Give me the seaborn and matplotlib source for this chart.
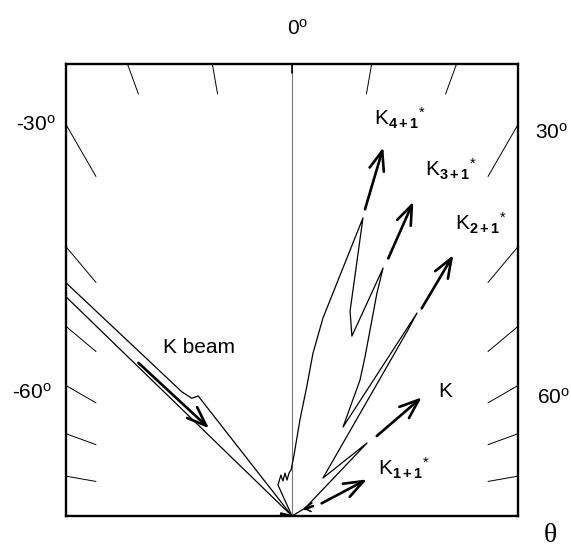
import numpy as np
import matplotlib
matplotlib.use("Agg")
import matplotlib.pyplot as plt
import seaborn as sns

# ---------------- data (data units: origin at bottom centre, half-width = 1) -------------
# K beam lobe outline
beam_upper_x = [-1.0, -0.488, -0.444, -0.415, 0.0]
beam_upper_y = [1.032, 0.550, 0.521, 0.531, 0.0]
beam_lower_x = [-1.0, 0.0]
beam_lower_y = [0.970, 0.0]

# outline of the forward lobes (K4+1, K3+1, K2+1, K)
lobe_x = [0.0, -0.062, -0.053, -0.049, -0.040, -0.031, -0.022, -0.013, -0.004, 0.009,
          0.035, 0.065, 0.093, 0.137, 0.314, 0.257, 0.265, 0.403, 0.376, 0.323, 0.301,
          0.226, 0.553, 0.513, 0.137, 0.332, 0.058, 0.0]
lobe_y = [0.0, 0.137, 0.168, 0.181, 0.155, 0.190, 0.159, 0.190, 0.204, 0.270,
          0.425, 0.571, 0.721, 0.876, 1.319, 0.907, 0.796, 1.097, 0.987, 0.704, 0.602,
          0.394, 0.898, 0.823, 0.168, 0.323, 0.035, 0.0]

# arrows (start -> tip)
arrow_names = ["K4+1", "K3+1", "K2+1", "K", "K1+1", "beam"]
arrow_x0 = [0.323, 0.426, 0.574, 0.375, 0.131, -0.680]
arrow_y0 = [1.357, 1.140, 0.919, 0.354, 0.056, 0.678]
arrow_x1 = [0.404, 0.537, 0.714, 0.574, 0.331, -0.367]
arrow_y1 = [1.631, 1.391, 1.155, 0.525, 0.162, 0.388]

# short dash / hook near origin of K1+1
k11_dash_x = [0.058, 0.093]
k11_dash_y = [0.031, 0.044]
k11_hook_x = [0.088, 0.056, 0.084]
k11_hook_y = [0.058, 0.034, 0.020]

# angular tick marks (degrees)
tick_angles = [-80, -70, -60, -50, -40, -30, -20, -10, 10, 20, 30, 40, 50, 60, 70, 80]

# labels
angle_labels = ["0$^{\\mathrm{o}}$", "-30$^{\\mathrm{o}}$", "30$^{\\mathrm{o}}$",
                "-60$^{\\mathrm{o}}$", "60$^{\\mathrm{o}}$"]
angle_label_x = [0.027, -1.131, 1.150, -1.150, 1.159]
angle_label_y = [2.155, 1.730, 1.695, 0.545, 0.522]

k_labels = [r"$\mathrm{K}_{\mathbf{4+1}}{}^{*}$", r"$\mathrm{K}_{\mathbf{3+1}}{}^{*}$",
            r"$\mathrm{K}_{\mathbf{2+1}}{}^{*}$", "K", r"$\mathrm{K}_{\mathbf{1+1}}{}^{*}$", "K beam"]
k_label_x = [0.363, 0.588, 0.721, 0.647, 0.382, -0.569]
k_label_y = [1.730, 1.502, 1.262, 0.528, 0.181, 0.723]

# ---------------- style ----------------
sns.set_theme(style="white")
plt.rcParams["font.family"] = ["Liberation Sans", "DejaVu Sans"]
plt.rcParams["text.color"] = "black"
plt.rcParams["mathtext.fontset"] = "custom"
plt.rcParams["mathtext.rm"] = "Liberation Sans"
plt.rcParams["mathtext.it"] = "Liberation Sans:italic"
plt.rcParams["mathtext.bf"] = "Liberation Sans:bold"

fig = plt.figure(figsize=(5.71, 5.47), dpi=100)
fig.patch.set_facecolor("white")
ax = fig.add_axes([66 / 571, 31 / 547, 452 / 571, 452 / 547])
ax.set_xlim(-1, 1)
ax.set_ylim(0, 2)
ax.set_xticks([])
ax.set_yticks([])
for s in ax.spines.values():
    s.set_linewidth(1.7)
    s.set_color("black")
    s.set_visible(True)

# centre line (0 deg)
ax.plot([0, 0], [0, 2], color="#777777", lw=0.8)
ax.plot([0, 0], [1.96, 2], color="black", lw=1.2)

# angular ticks: from box edge inwards by a fixed inset
inset = 30 / 226
for a in tick_angles:
    t = np.radians(a)
    sx, cy = np.sin(t), np.cos(t)
    if abs(sx) / cy * 2 > 1:  # hits side
        sgn = np.sign(sx)
        yo = 1 / abs(np.tan(t))
        xs = [sgn * 1.0, sgn * (1 - inset)]
        ys = [yo, yo * (1 - inset)]
    else:
        xs = [2 * np.tan(t), (2 - inset) * np.tan(t)]
        ys = [2.0, 2 - inset]
    ax.plot(xs, ys, color="black", lw=0.7)

# lobes
sns.lineplot(x=beam_upper_x, y=beam_upper_y, sort=False, estimator=None, color="black", lw=0.9, ax=ax)
sns.lineplot(x=beam_lower_x, y=beam_lower_y, sort=False, estimator=None, color="black", lw=0.9, ax=ax)
sns.lineplot(x=lobe_x, y=lobe_y, sort=False, estimator=None, color="black", lw=0.9, ax=ax)

# small details near origin
sns.lineplot(x=k11_dash_x, y=k11_dash_y, sort=False, estimator=None, color="black", lw=1.8, ax=ax)
sns.lineplot(x=k11_hook_x, y=k11_hook_y, sort=False, estimator=None, color="black", lw=1.2, ax=ax)
ax.plot([-0.053, -0.012], [0.010, 0.0], color="black", lw=2.4, solid_capstyle="butt")

# arrows
for x0, y0, x1, y1 in zip(arrow_x0, arrow_y0, arrow_x1, arrow_y1):
    ax.annotate("", xy=(x1, y1), xytext=(x0, y0),
                arrowprops=dict(arrowstyle="->,head_length=1.0,head_width=0.38",
                                mutation_scale=14, lw=1.9, color="black",
                                shrinkA=0, shrinkB=0))

# labels
for txt, x, y in zip(angle_labels, angle_label_x, angle_label_y):
    ax.text(x, y, txt, fontsize=15, ha="center", va="center", color="black", clip_on=False)
for txt, x, y in zip(k_labels, k_label_x, k_label_y):
    ax.text(x, y, txt, fontsize=15, ha="left", va="baseline", color="black", clip_on=False)
ax.text(1.142, -0.088, "θ", fontsize=20, ha="center", va="center", color="black",
        family=["Liberation Serif", "DejaVu Serif"], clip_on=False)

fig.savefig("out.png", dpi=100, facecolor="white")
